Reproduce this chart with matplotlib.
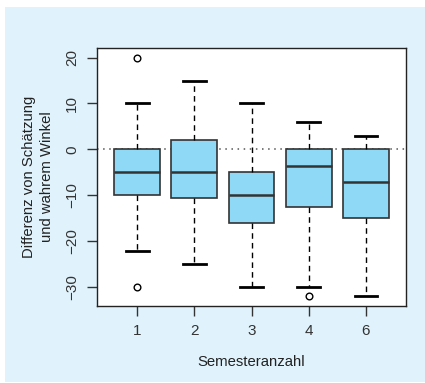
import matplotlib
matplotlib.use("Agg")
import matplotlib.pyplot as plt
from matplotlib.patches import Rectangle

categories = ["1", "2", "3", "4", "6"]
medians = [-5, -5, -10, -3.5, -7]
q1 = [-10, -10.5, -16, -12.5, -15]
q3 = [0, 2, -5, 0, 0]
whislo = [-22, -25, -30, -30, -32]
whishi = [10, 15, 10, 6, 3]
fliers = [[20, -30], [], [], [-32], []]
yticks = [-30, -20, -10, 0, 10, 20]

plt.rcParams['font.family'] = ['Liberation Sans', 'DejaVu Sans']

W, H = 425, 383
fig = plt.figure(figsize=(W/100, H/100), dpi=100)
fig.patch.set_facecolor('white')
fig.patches.append(Rectangle((5/W, 1 - 382/H), 420/W, 375/H, transform=fig.transFigure,
                             facecolor='#e0f2fb', edgecolor='none', zorder=-10))

ax = fig.add_axes([97/W, 1 - 306/H, 309/W, 258/H])
ax.set_facecolor('white')

stats = []
for i in range(len(categories)):
    stats.append(dict(med=medians[i], q1=q1[i], q3=q3[i], whislo=whislo[i],
                      whishi=whishi[i], fliers=fliers[i], label=categories[i]))
pos = list(range(1, len(categories) + 1))
ax.axhline(0, color='#555555', linestyle=(0, (1, 3)), linewidth=1.1, zorder=0)
ax.bxp(stats, positions=pos, widths=0.8, patch_artist=True,
       boxprops=dict(facecolor='#8fd8f6', edgecolor='#333333', linewidth=1.2),
       medianprops=dict(color='#333333', linewidth=1.8),
       whiskerprops=dict(color='black', linestyle=(0, (4, 3)), linewidth=1.0),
       capprops=dict(color='black', linewidth=2.0),
       capwidths=0.4,
       flierprops=dict(marker='o', markerfacecolor='none', markeredgecolor='black',
                       markersize=4.8, markeredgewidth=1.0))

ax.set_xlim(0.3, 5.7)
ax.set_ylim(-34.08, 22.08)
ax.set_yticks(yticks)
ax.set_yticklabels([("\u2212%d" % -v) if v < 0 else str(v) for v in yticks],
                   rotation=90, va='center')
ax.set_xticks(pos)
ax.set_xticklabels(categories)
ax.tick_params(axis='both', length=7, width=1, color='#333333', labelsize=11,
               labelcolor='#333333', pad=6)
for s in ax.spines.values():
    s.set_linewidth(1.0)
    s.set_color('#222222')
ax.set_xlabel("Semesteranzahl", fontsize=10.7, color='#222222', labelpad=12)
ax.set_ylabel("Differenz von Schätzung\nund wahrem Winkel", fontsize=10.7, color='#222222',
              labelpad=8, linespacing=1.35)

fig.savefig("out.png", dpi=100, facecolor=fig.get_facecolor())
